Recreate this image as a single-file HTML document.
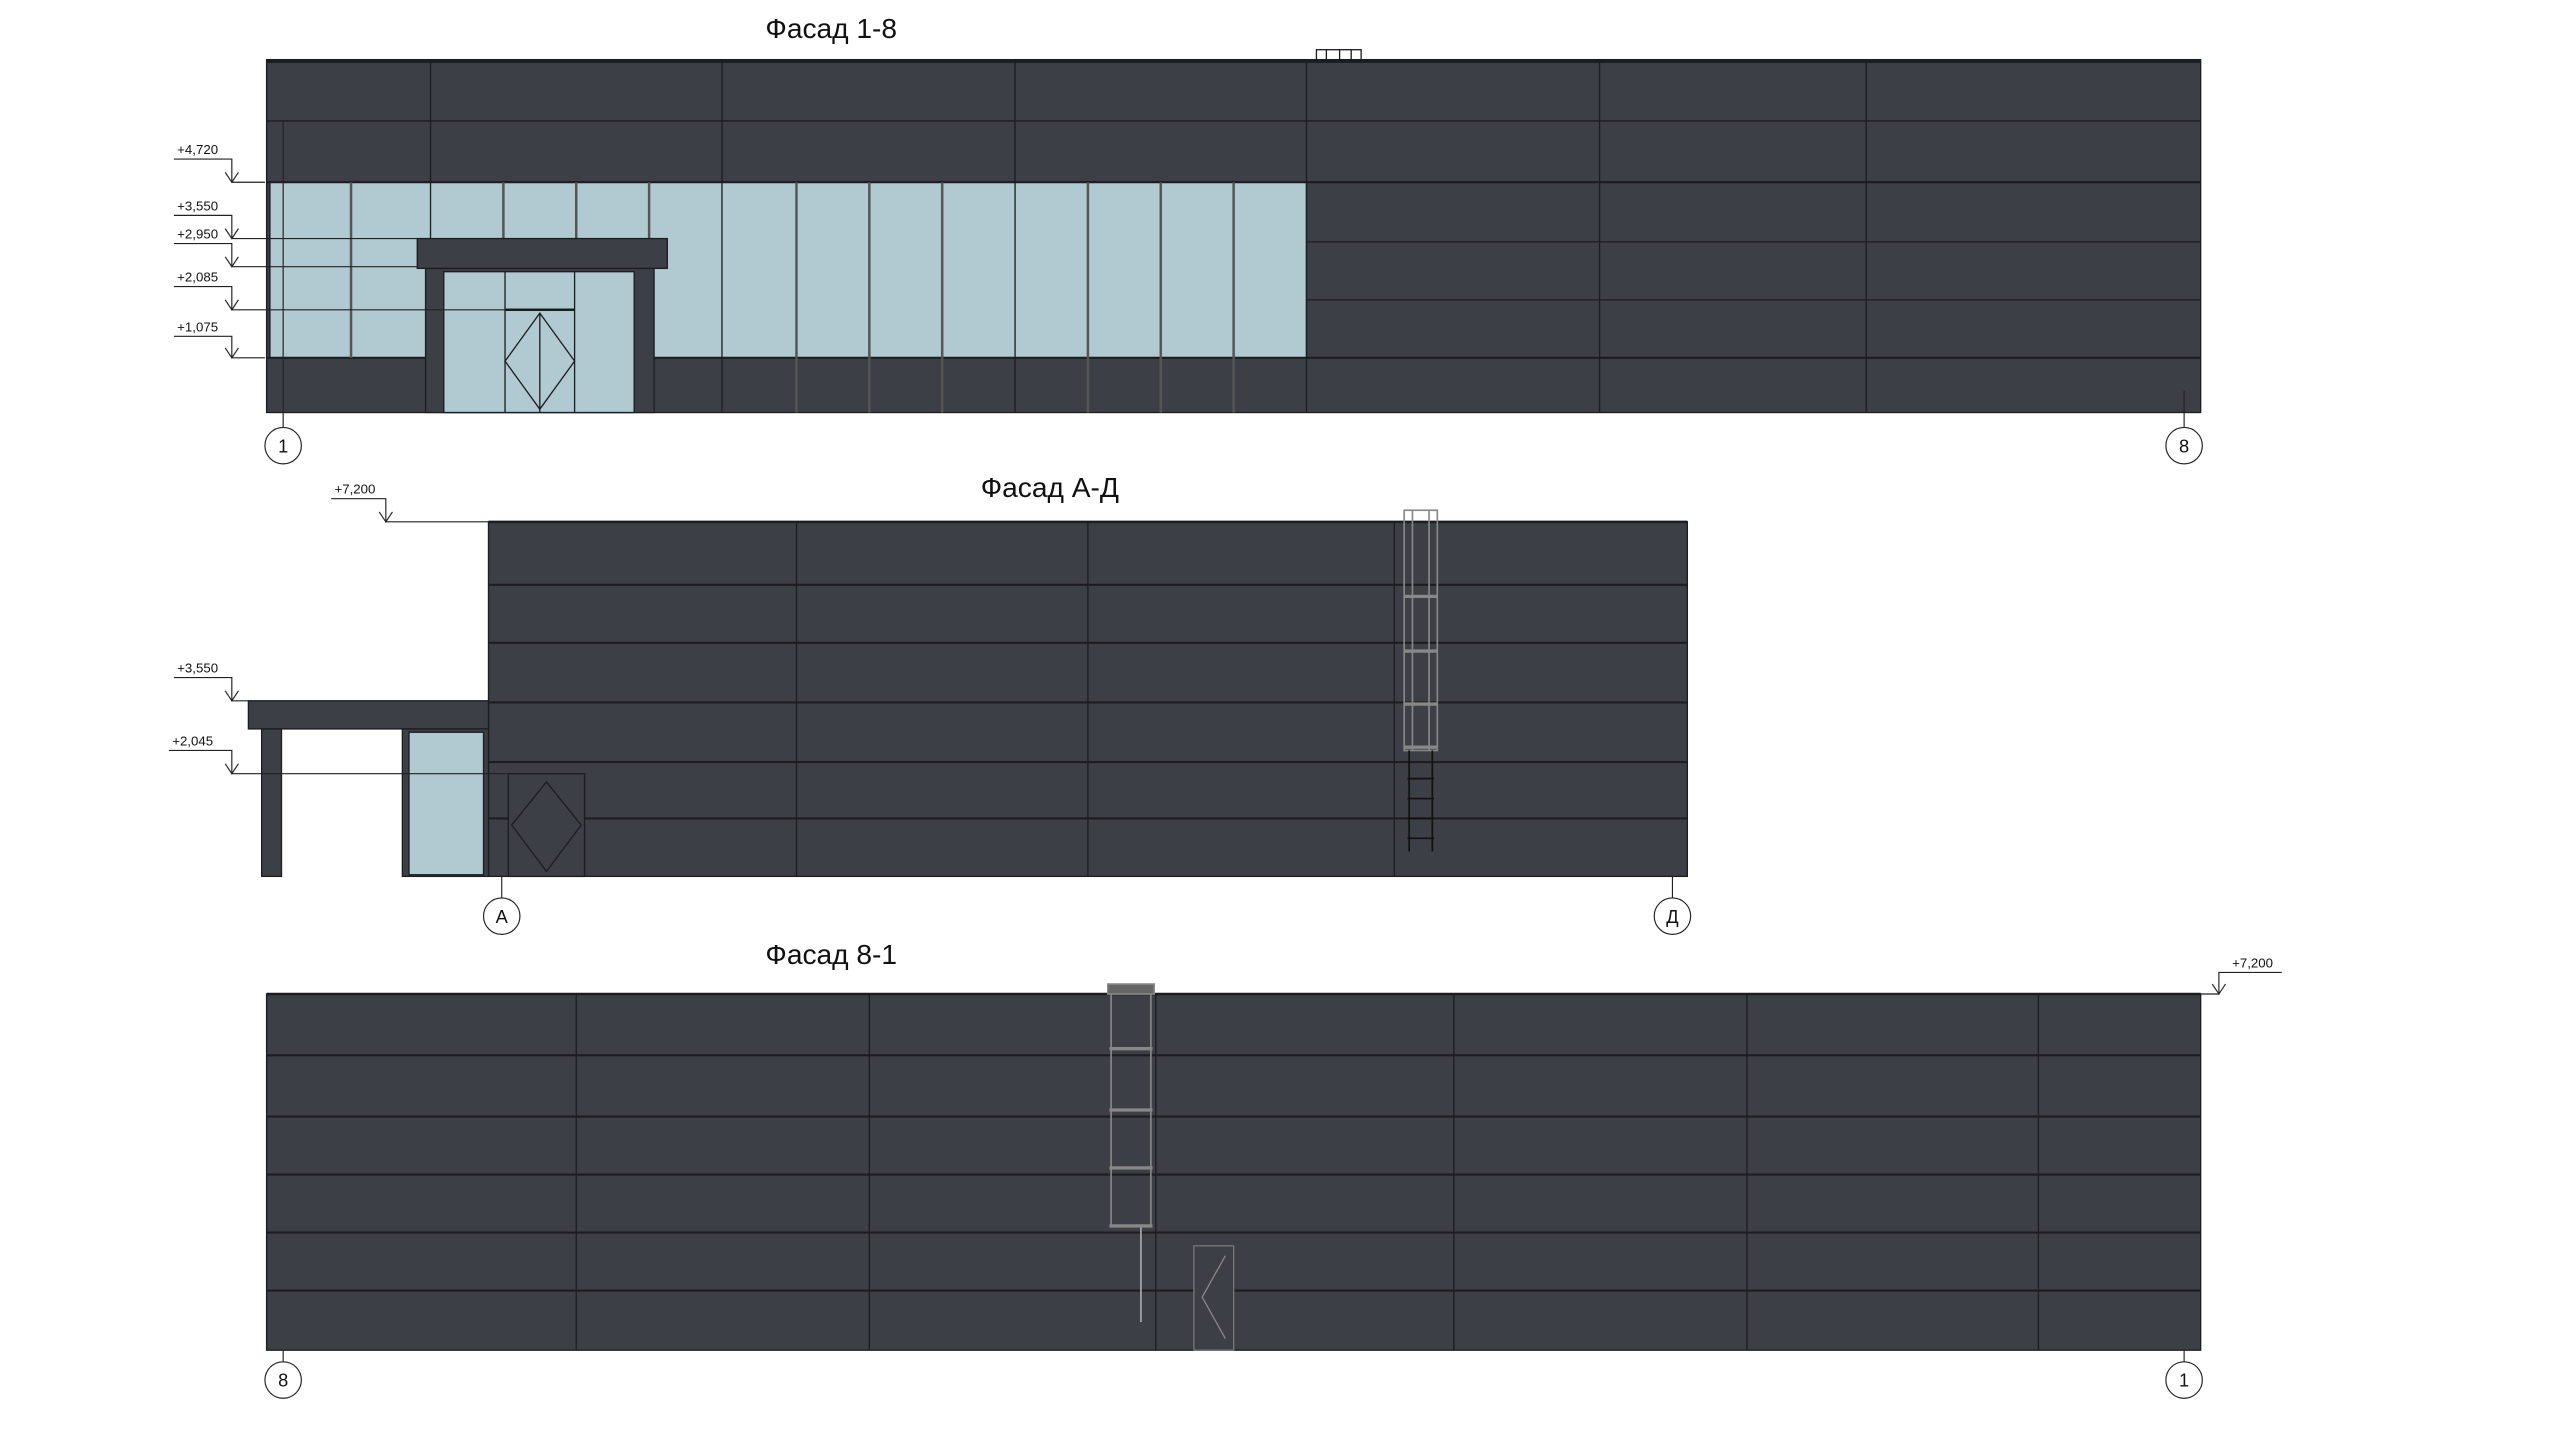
<!DOCTYPE html>
<html><head><meta charset="utf-8"><style>
html,body{margin:0;padding:0;background:#fff;}
svg{display:block;}
text{font-family:"Liberation Sans","DejaVu Sans",sans-serif;fill:#111;}
</style></head><body>
<svg width="2560" height="1438" viewBox="0 0 1546 868" preserveAspectRatio="none" xmlns="http://www.w3.org/2000/svg">
<rect width="1546" height="868" fill="#fff"/>
<g stroke="#1c1d21" stroke-width="0.8">
<!-- Facade 1-8 -->
<rect x="161" y="36" width="1168" height="213" fill="#3d3f46"/>
<line x1="161" y1="37" x2="1329" y2="37" stroke-width="2"/>
<rect x="163" y="110" width="626" height="106" fill="#b1cad1"/>
<g>
<line x1="161" y1="73" x2="1329" y2="73"/>
<line x1="161" y1="110" x2="1329" y2="110" stroke-width="1.3"/>
<line x1="789" y1="146" x2="1329" y2="146"/>
<line x1="789" y1="181" x2="1329" y2="181"/>
<line x1="161" y1="216" x2="1329" y2="216" stroke-width="1.3"/>
<line x1="260" y1="36" x2="260" y2="249"/><line x1="436" y1="36" x2="436" y2="249"/>
<line x1="613" y1="36" x2="613" y2="249"/><line x1="789" y1="36" x2="789" y2="249"/>
<line x1="966" y1="36" x2="966" y2="249"/><line x1="1127" y1="36" x2="1127" y2="249"/>
</g>
<g stroke="#555" stroke-width="1.5">
<line x1="212" y1="110" x2="212" y2="216"/><line x1="304" y1="110" x2="304" y2="216"/>
<line x1="348" y1="110" x2="348" y2="216"/><line x1="392" y1="110" x2="392" y2="216"/>
<line x1="481" y1="110" x2="481" y2="249"/><line x1="525" y1="110" x2="525" y2="249"/>
<line x1="569" y1="110" x2="569" y2="249"/><line x1="657" y1="110" x2="657" y2="249"/>
<line x1="701" y1="110" x2="701" y2="249"/><line x1="745" y1="110" x2="745" y2="249"/>
</g>
<rect x="257" y="162" width="138" height="87" fill="#3d3f46"/>
<rect x="268" y="164" width="115" height="85" fill="#b1cad1"/>
<line x1="305" y1="164" x2="305" y2="249"/><line x1="347" y1="164" x2="347" y2="249"/>
<line x1="305" y1="187" x2="347" y2="187" stroke-width="1.5"/>
<polygon points="326,189 347,218 326,247 305,218" fill="none"/>
<line x1="326" y1="189" x2="326" y2="249"/>
<rect x="252" y="144" width="151" height="18" fill="#3d3f46"/>
<rect x="795" y="30" width="27" height="6" fill="#fff"/>
<line x1="801" y1="30" x2="801" y2="36"/><line x1="809" y1="30" x2="809" y2="36"/><line x1="816" y1="30" x2="816" y2="36"/>
<g stroke="#222" stroke-width="0.7" fill="none">
<polyline points="105,96 140,96 140,110 160,110"/><polyline points="136,104 140,110 144,104"/>
<polyline points="105,130 140,130 140,144 252,144"/><polyline points="136,138 140,144 144,138"/>
<polyline points="105,147 140,147 140,161 252,161"/><polyline points="136,155 140,161 144,155"/>
<polyline points="105,173 140,173 140,187 305,187"/><polyline points="136,181 140,187 144,181"/>
<polyline points="105,203 140,203 140,216 160,216"/><polyline points="136,210 140,216 144,210"/>
<line x1="171" y1="73" x2="171" y2="258"/>
<circle cx="171" cy="269" r="11" fill="#fff"/>
<line x1="1319" y1="236" x2="1319" y2="258"/>
<circle cx="1319" cy="269" r="11" fill="#fff"/>
</g>
<!-- Facade A-Д -->
<rect x="295" y="315" width="724" height="214" fill="#3d3f46"/>
<line x1="295" y1="315" x2="1019" y2="315" stroke-width="1.5"/>
<line x1="295" y1="353" x2="1019" y2="353" stroke-width="1.3"/>
<line x1="295" y1="388" x2="1019" y2="388" stroke-width="1.3"/>
<line x1="295" y1="424" x2="1019" y2="424" stroke-width="1.3"/>
<line x1="295" y1="460" x2="1019" y2="460" stroke-width="1.3"/>
<line x1="295" y1="494" x2="1019" y2="494" stroke-width="1.3"/>
<line x1="481" y1="315" x2="481" y2="529"/><line x1="657" y1="315" x2="657" y2="529"/><line x1="842" y1="315" x2="842" y2="529"/>
<rect x="150" y="423" width="145" height="17" fill="#3d3f46"/>
<rect x="158" y="440" width="12" height="89" fill="#3d3f46"/>
<rect x="243" y="440" width="52" height="89" fill="#3d3f46"/>
<rect x="247" y="442" width="45" height="86" fill="#b1cad1"/>
<rect x="307" y="467" width="46" height="62" fill="#3d3f46"/>
<polygon points="330,472 351,498 330,526 309,498" fill="none"/>
<g fill="none" stroke="#888" stroke-width="1">
<rect x="848" y="308" width="20" height="145"/>
<line x1="853" y1="308" x2="853" y2="453"/><line x1="863" y1="308" x2="863" y2="453"/>
<line x1="851" y1="453" x2="851" y2="514" stroke="#111"/><line x1="865" y1="453" x2="865" y2="514" stroke="#111"/>
</g>
<g stroke="#888" stroke-width="2">
<line x1="848" y1="360" x2="868" y2="360"/><line x1="848" y1="393" x2="868" y2="393"/><line x1="848" y1="425" x2="868" y2="425"/><line x1="848" y1="451" x2="868" y2="451"/>
</g>
<g stroke="#111" stroke-width="1">
<line x1="850" y1="470" x2="866" y2="470"/><line x1="850" y1="482" x2="866" y2="482"/>
<line x1="850" y1="494" x2="866" y2="494"/><line x1="850" y1="506" x2="866" y2="506"/>
</g>
<g stroke="#222" stroke-width="0.7" fill="none">
<polyline points="200,301 233,301 233,315 295,315"/><polyline points="229,309 233,315 237,309"/>
<polyline points="105,409 140,409 140,423 150,423"/><polyline points="136,417 140,423 144,417"/>
<polyline points="102,453 140,453 140,467 307,467"/><polyline points="136,461 140,467 144,461"/>
<line x1="303" y1="529" x2="303" y2="542"/><circle cx="303" cy="553" r="11" fill="#fff"/>
<line x1="1010" y1="529" x2="1010" y2="542"/><circle cx="1010" cy="553" r="11" fill="#fff"/>
</g>
<!-- Facade 8-1 -->
<rect x="161" y="600" width="1168" height="215" fill="#3d3f46"/>
<line x1="161" y1="600" x2="1329" y2="600" stroke-width="1.5"/>
<line x1="161" y1="637" x2="1329" y2="637" stroke-width="1.3"/>
<line x1="161" y1="674" x2="1329" y2="674" stroke-width="1.3"/>
<line x1="161" y1="709" x2="1329" y2="709" stroke-width="1.3"/>
<line x1="161" y1="744" x2="1329" y2="744" stroke-width="1.3"/>
<line x1="161" y1="779" x2="1329" y2="779" stroke-width="1.3"/>
<line x1="348" y1="600" x2="348" y2="815"/><line x1="525" y1="600" x2="525" y2="815"/>
<line x1="698" y1="600" x2="698" y2="815"/><line x1="878" y1="600" x2="878" y2="815"/>
<line x1="1055" y1="600" x2="1055" y2="815"/><line x1="1231" y1="600" x2="1231" y2="815"/>
<g fill="none" stroke="#888" stroke-width="1">
<line x1="671" y1="594" x2="671" y2="740"/><line x1="695" y1="594" x2="695" y2="740"/>
<line x1="689" y1="740" x2="689" y2="798" stroke="#aaa"/>
<rect x="669" y="594" width="28" height="6" fill="#666"/>
</g>
<g stroke="#888" stroke-width="2">
<line x1="670" y1="633" x2="696" y2="633"/><line x1="670" y1="670" x2="696" y2="670"/><line x1="670" y1="705" x2="696" y2="705"/><line x1="670" y1="740" x2="696" y2="740"/>
</g>
<rect x="721" y="752" width="24" height="63" fill="#3d3f46" stroke="#777"/>
<polyline points="740,758 726,783 740,808" fill="none" stroke="#888"/>
<g stroke="#222" stroke-width="0.7" fill="none">
<polyline points="1378,587 1340,587 1340,600 1329,600"/><polyline points="1336,594 1340,600 1344,594"/>
<line x1="171" y1="815" x2="171" y2="822"/><circle cx="171" cy="833" r="11" fill="#fff"/>
<line x1="1319" y1="815" x2="1319" y2="822"/><circle cx="1319" cy="833" r="11" fill="#fff"/>
</g>
</g>
<g font-size="17">
<text x="502" y="23" text-anchor="middle">Фасад 1-8</text>
<text x="634" y="300" text-anchor="middle">Фасад А-Д</text>
<text x="502" y="582" text-anchor="middle">Фасад 8-1</text>
</g>
<g font-size="11" text-anchor="middle">
<text x="171" y="273">1</text><text x="1319" y="273">8</text>
<text x="303" y="557">А</text><text x="1010" y="557">Д</text>
<text x="171" y="837">8</text><text x="1319" y="837">1</text>
</g>
<g font-size="8">
<text x="107" y="93">+4,720</text><text x="107" y="127">+3,550</text>
<text x="107" y="144">+2,950</text><text x="107" y="170">+2,085</text>
<text x="107" y="200">+1,075</text>
<text x="202" y="298">+7,200</text><text x="107" y="406">+3,550</text>
<text x="104" y="450">+2,045</text><text x="1348" y="584">+7,200</text>
</g>
</svg>
</body></html>
